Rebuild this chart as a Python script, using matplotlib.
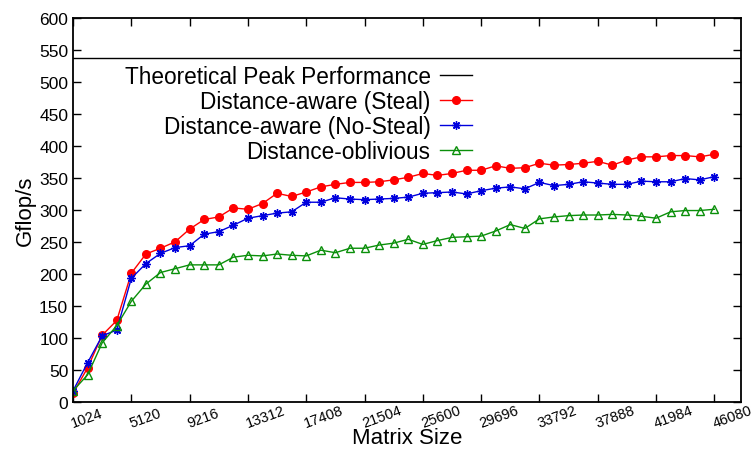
import numpy as np
import matplotlib
matplotlib.use('Agg')
import matplotlib.pyplot as plt
import matplotlib.transforms as mtrans

plt.rcParams['font.family'] = ['Liberation Sans', 'DejaVu Sans']

# matrix sizes 1024 .. 46080, step 1024
sizes = list(range(1024, 46081, 1024))
peak = 538

steal = [13, 53, 104, 127, 201, 231, 240, 250, 270, 285, 289, 303, 301, 310, 326,
         321, 328, 336, 340, 343, 343, 344, 347, 351, 357, 354, 357, 362, 362, 369,
         365, 366, 373, 370, 371, 373, 376, 370, 378, 383, 383, 385, 385, 383, 387]
nosteal = [17, 61, 103, 112, 193, 216, 232, 241, 244, 262, 266, 276, 287, 291, 295,
           297, 312, 312, 319, 317, 316, 317, 318, 320, 326, 327, 328, 325, 330, 334,
           336, 333, 343, 338, 340, 344, 342, 340, 340, 345, 344, 344, 349, 347, 352]
oblivious = [17, 42, 92, 119, 157, 184, 202, 208, 214, 214, 214, 226, 229, 228, 231,
             229, 228, 237, 233, 240, 240, 245, 248, 254, 246, 252, 257, 258, 259, 267,
             277, 271, 286, 289, 291, 292, 292, 293, 292, 290, 287, 297, 299, 299, 301]

xticks = list(range(1024, 46081, 4096))

fig = plt.figure(figsize=(7.53, 4.56), dpi=100)
ax = fig.add_axes([0.097, 0.117, 0.887, 0.841])

ax.axhline(peak, color='black', lw=1.0, label='Theoretical Peak Performance')
ax.plot(sizes, steal, color='#ff0000', lw=1.0, marker='o', ms=5.5,
        label='Distance-aware (Steal)')
ax.plot(sizes, nosteal, color='#0000dd', lw=1.0, marker=(8, 2, 0), ms=6,
        mew=1.0, label='Distance-aware (No-Steal)')
ax.plot(sizes, oblivious, color='#0a8f0a', lw=1.0, marker='^', ms=5.5,
        mfc='none', mew=1.0, label='Distance-oblivious')

ax.set_xlim(1024, 47950)
ax.set_ylim(0, 600)
ax.set_yticks(range(0, 601, 50))
ax.set_xticks(xticks)
# gnuplot style rotated labels: anchored at the left end of the baseline
ax.set_xticklabels([str(t) for t in xticks], rotation=20, fontsize=10.5,
                   ha='left', va='baseline', rotation_mode='anchor')
shift = mtrans.ScaledTranslation(-0.07, -0.01, fig.dpi_scale_trans)
for lab in ax.get_xticklabels():
    lab.set_transform(lab.get_transform() + shift)
ax.tick_params(axis='x', pad=18.5)
ax.tick_params(axis='y', labelsize=12.5)
ax.tick_params(direction='in', top=True, right=True, length=6, width=1)
for s in ax.spines.values():
    s.set_linewidth(1.3)

ax.set_xlabel('Matrix Size', fontsize=16, labelpad=-2)
ax.set_ylabel('Gflop/s', fontsize=16, labelpad=2)

leg = ax.legend(loc='upper right', bbox_to_anchor=(0.598, 0.877), frameon=False,
                markerfirst=False, fontsize=16.3, handlelength=1.45,
                handletextpad=0.4, labelspacing=0.08, borderaxespad=0,
                borderpad=0)
for t in leg.get_texts():
    t.set_ha('right')
leg._legend_box.align = 'right'

fig.savefig('out.png', dpi=100)
